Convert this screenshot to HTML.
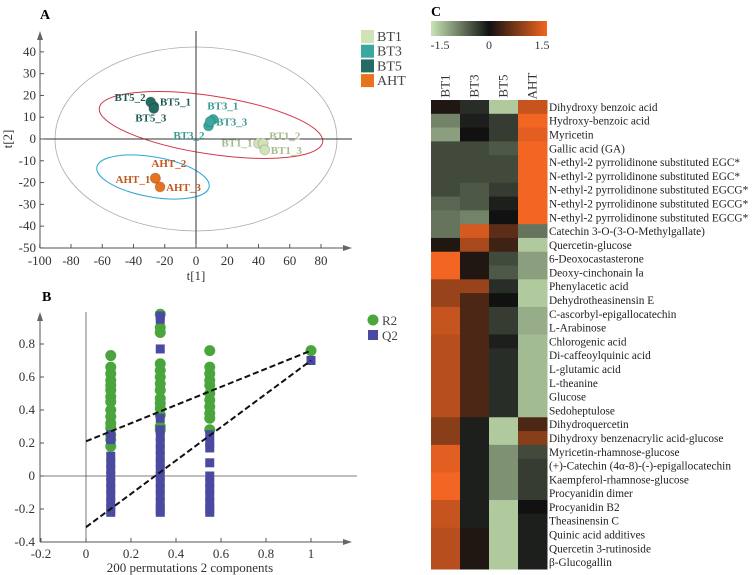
<!DOCTYPE html>
<html><head><meta charset="utf-8"><style>
body{margin:0;background:#fff;}
svg{display:block;font-family:"Liberation Serif",serif;}
</style></head><body>
<svg id="fig" width="753" height="575" viewBox="0 0 753 575">
<defs>
<linearGradient id="cbar" x1="0" x2="1" y1="0" y2="0">
<stop offset="0" stop-color="#c8e6b4"/><stop offset="0.5" stop-color="#111"/><stop offset="1" stop-color="#f26522"/>
</linearGradient>
</defs>
<g id="pa"></g>
<g id="pb"></g>
<g id="pc"></g>
</svg>
<script>
// ---------- Panel A data ----------
const aNames=["BT1_1","BT1_2","BT1_3","BT3_1","BT3_2","BT3_3","BT5_1","BT5_2","BT5_3","AHT_1","AHT_2","AHT_3"];
const aGroups=["BT1","BT1","BT1","BT3","BT3","BT3","BT5","BT5","BT5","AHT","AHT","AHT"];
const aT1=[40,43,44,11,8,9,-27,-29,-27,-26,-26,-23];
const aT2=[-2,-2,-5,9,6,8,15,17,14,-18,-18,-22];
const aXTicks=[-100,-80,-60,-40,-20,0,20,40,60,80];
const aYTicks=[40,30,20,10,0,-10,-20,-30,-40,-50];
// ---------- Panel B data ----------
const bR2x=[0.11,0.33,0.55,1];
const bR2Vals=[[0.73,0.66,0.62,0.58,0.55,0.52,0.48,0.45,0.4,0.36,0.32,0.29,0.25,0.22,0.18],
[0.98,0.9,0.87,0.68,0.64,0.6,0.56,0.52,0.47,0.44,0.41,0.37,0.3,0.28],
[0.76,0.66,0.62,0.58,0.55,0.5,0.46,0.42,0.38,0.35,0.28],[0.76]];
const bQ2Vals=[[0.25,0.22,0.12,0.08,0.04,0,-0.04,-0.08,-0.12,-0.16,-0.2,-0.22],
[0.97,0.95,0.77,0.35,0.28,0.24,0.2,0.16,0.12,0.08,0.04,0,-0.04,-0.08,-0.12,-0.16,-0.2,-0.22],
[0.25,0.2,0.17,0.08,0,-0.04,-0.08,-0.12,-0.16,-0.2,-0.22],[0.70]];
const bR2Line=[0.21,0.76];
const bQ2Line=[-0.31,0.70];
const bXTicks=[-0.2,0,0.2,0.4,0.6,0.8,1];
const bYTicks=[0.8,0.6,0.4,0.2,0,-0.2,-0.4];
// ---------- Panel C data ----------
const cCols=["BT1","BT3","BT5","AHT"];
const cRows=["Dihydroxy benzoic acid","Hydroxy-benzoic acid","Myricetin","Gallic acid (GA)",
"N-ethyl-2 pyrrolidinone substituted EGC*","N-ethyl-2 pyrrolidinone substituted EGC*",
"N-ethyl-2 pyrrolidinone substituted EGCG*","N-ethyl-2 pyrrolidinone substituted EGCG*",
"N-ethyl-2 pyrrolidinone substituted EGCG*","Catechin 3-O-(3-O-Methylgallate)","Quercetin-glucose",
"6-Deoxocastasterone","Deoxy-cinchonain Ⅰa","Phenylacetic acid","Dehydrotheasinensin E",
"C-ascorbyl-epigallocatechin","L-Arabinose","Chlorogenic acid","Di-caffeoylquinic acid",
"L-glutamic acid","L-theanine","Glucose","Sedoheptulose","Dihydroquercetin",
"Dihydroxy benzenacrylic acid-glucose","Myricetin-rhamnose-glucose",
"(+)-Catechin (4α-8)-(-)-epigallocatechin","Kaempferol-rhamnose-glucose","Procyanidin dimer",
"Procyanidin B2","Theasinensin C","Quinic acid additives","Quercetin 3-rutinoside","β-Glucogallin"];
const cBT1=[0.1,-0.8,-1.0,-0.4,-0.4,-0.4,-0.4,-0.6,-0.7,-0.7,0.1,1.5,1.5,0.9,0.9,1.2,1.2,1.1,1.1,1.1,1.1,1.1,1.1,0.8,0.8,1.4,1.4,1.5,1.5,1.2,1.2,1.1,1.1,1.1];
const cBT3=[-0.2,-0.1,0,-0.4,-0.4,-0.4,-0.5,-0.5,-0.8,1.3,1.0,0.1,0.1,0.9,0.4,0.4,0.4,0.4,0.4,0.4,0.4,0.4,0.4,-0.1,-0.1,-0.1,-0.1,-0.1,-0.1,-0.1,-0.1,0.1,0.1,0.1];
const cBT5=[-1.3,-0.3,-0.3,-0.5,-0.4,-0.4,-0.3,-0.1,0,0.5,0.3,-0.4,-0.5,-0.2,0,-0.3,-0.3,-0.1,-0.2,-0.2,-0.2,-0.2,-0.2,-1.3,-1.3,-0.9,-0.9,-0.9,-0.9,-1.3,-1.3,-1.3,-1.3,-1.3];
const cAHT=[1.2,1.5,1.4,1.5,1.5,1.5,1.5,1.5,1.5,-0.7,-1.3,-1.0,-1.0,-1.3,-1.3,-1.1,-1.1,-1.2,-1.2,-1.2,-1.2,-1.2,-1.2,0.4,0.8,-0.4,-0.3,-0.3,-0.3,0,-0.1,-0.1,-0.1,-0.1];
const cScale=[-1.5,0,1.5];

const NS="http://www.w3.org/2000/svg";
function mk(parent,tag,attrs,text){const e=document.createElementNS(NS,tag);for(const k in attrs)e.setAttribute(k,attrs[k]);if(text!==undefined)e.textContent=text;parent.appendChild(e);return e;}

// ===== Panel A =====
const pa=document.getElementById('pa');
const ax=v=>196+v*1.5625, ay=v=>139-v*2.178;
let t=mk(pa,'text',{x:40,y:19,'font-size':14,'font-weight':'bold'},'A');


mk(pa,'ellipse',{cx:196,cy:139,rx:141,ry:92,fill:'none',stroke:'#aaa','stroke-width':0.8});
mk(pa,'ellipse',{cx:211,cy:125,rx:113,ry:29,fill:'none',stroke:'#d0384a','stroke-width':1,transform:'rotate(8.7 211 125)'});
mk(pa,'ellipse',{cx:153,cy:177,rx:57,ry:20,fill:'none',stroke:'#2aa6d6','stroke-width':1,transform:'rotate(10 153 177)'});
mk(pa,'line',{x1:40,y1:248,x2:345,y2:248,stroke:'#555'});
mk(pa,'path',{d:'M352 248 L343 245 L343 251Z',fill:'#666'});
mk(pa,'line',{x1:40,y1:248,x2:40,y2:38,stroke:'#555'});
mk(pa,'path',{d:'M40 31 L37 40 L43 40Z',fill:'#666'});
mk(pa,'line',{x1:40,y1:139,x2:352,y2:139,stroke:'#333'});
mk(pa,'line',{x1:196,y1:31,x2:196,y2:248,stroke:'#333'});
aXTicks.forEach(v=>{mk(pa,'line',{x1:ax(v),y1:248,x2:ax(v),y2:244,stroke:'#555'});
 const e=mk(pa,'text',{x:ax(v),y:265,'font-size':13,'text-anchor':'middle',fill:'#333'},v);
 
 });
aYTicks.forEach(v=>{mk(pa,'line',{x1:40,y1:ay(v),x2:44,y2:ay(v),stroke:'#555'});
 const e=mk(pa,'text',{x:36,y:ay(v)+4,'font-size':13,'text-anchor':'end',fill:'#333'},v);
 
 });
t=mk(pa,'text',{x:196,y:280,'font-size':13,'text-anchor':'middle',fill:'#333'},'t[1]');


t=mk(pa,'text',{x:12,y:139,'font-size':13,'text-anchor':'middle',fill:'#333',transform:'rotate(-90 12 139)'},'t[2]');


const gcol={BT1:'#cfe3b6',BT3:'#3aa89e',BT5:'#236b63',AHT:'#e8731f'};
const lcol={BT1:'#a5bb8c',BT3:'#3a9a94',BT5:'#1f5a55',AHT:'#c2581c'};
const lpos={"BT1_1":[-6,3,'end'],"BT1_2":[6,-4,'start'],"BT1_3":[6,4,'start'],"BT3_1":[-6,-10,'start'],"BT3_2":[-4,13,'end'],"BT3_3":[6,4,'start'],"BT5_1":[6,-1,'start'],"BT5_2":[-5,-1,'end'],"BT5_3":[-3,13,'middle'],"AHT_1":[-5,5,'end'],"AHT_2":[-4,-11,'start'],"AHT_3":[6,4,'start']};
aNames.forEach((n,i)=>{const x=ax(aT1[i]),y=ay(aT2[i]),g=aGroups[i];
 const c=mk(pa,'circle',{cx:x,cy:y,r:5,fill:gcol[g],stroke:'rgba(0,0,0,0.15)'});
 
 
 const p=lpos[n];
 const e=mk(pa,'text',{x:x+p[0],y:y+p[1],'font-size':11,'font-weight':'bold','text-anchor':p[2],fill:lcol[g]},n);
 
 });
["BT1","BT3","BT5","AHT"].forEach((g,i)=>{const y=30+i*14.7;
 const r=mk(pa,'rect',{x:361,y:y,width:13,height:13,fill:gcol[g]});
 
 
 const e=mk(pa,'text',{x:377,y:y+11,'font-size':14,fill:'#444'},g);
 
 });

// ===== Panel B =====
const pb=document.getElementById('pb');
const bx=v=>86+v*225, by=v=>476-v*165;
t=mk(pb,'text',{x:42,y:301,'font-size':14,'font-weight':'bold'},'B');


mk(pb,'line',{x1:40,y1:542,x2:345,y2:542,stroke:'#555'});
mk(pb,'path',{d:'M352 542 L343 539 L343 545Z',fill:'#666'});
mk(pb,'line',{x1:40,y1:542,x2:40,y2:320,stroke:'#555'});
mk(pb,'path',{d:'M40 312 L37 321 L43 321Z',fill:'#666'});
mk(pb,'line',{x1:40,y1:476,x2:357,y2:476,stroke:'#555','stroke-width':0.8});
mk(pb,'line',{x1:86,y1:312,x2:86,y2:542,stroke:'#555','stroke-width':0.8});
bXTicks.forEach(v=>{mk(pb,'line',{x1:bx(v),y1:542,x2:bx(v),y2:538,stroke:'#555'});
 const e=mk(pb,'text',{x:bx(v),y:558,'font-size':13,'text-anchor':'middle',fill:'#333'},v);
 
 });
bYTicks.forEach(v=>{mk(pb,'line',{x1:40,y1:by(v),x2:44,y2:by(v),stroke:'#555'});
 const e=mk(pb,'text',{x:35,y:by(v)+4,'font-size':13,'text-anchor':'end',fill:'#333'},v);
 
 });
t=mk(pb,'text',{x:190,y:572,'font-size':13,'text-anchor':'middle',fill:'#333'},'200 permutations 2 components');


bR2x.forEach((x,i)=>{bR2Vals[i].forEach(v=>{const c=mk(pb,'circle',{cx:bx(x),cy:by(v),r:5.5,fill:'#4aa63c'});
 
 });});
bR2x.forEach((x,i)=>{bQ2Vals[i].forEach(v=>{const r=mk(pb,'rect',{x:bx(x)-4.5,y:by(v)-4.5,width:9,height:9,fill:'#4b4aa0'});
 
 });});
let l=mk(pb,'line',{x1:bx(0),y1:by(bR2Line[0]),x2:bx(1),y2:by(bR2Line[1]),stroke:'#111','stroke-width':2,'stroke-dasharray':'6 3'});


l=mk(pb,'line',{x1:bx(0),y1:by(bQ2Line[0]),x2:bx(1),y2:by(bQ2Line[1]),stroke:'#111','stroke-width':2,'stroke-dasharray':'6 3'});


let lg=mk(pb,'circle',{cx:373,cy:320,r:5.5,fill:'#4aa63c'});


lg=mk(pb,'text',{x:382,y:325,'font-size':13,fill:'#444'},'R2');


lg=mk(pb,'rect',{x:368,y:330,width:10,height:10,fill:'#4b4aa0'});


lg=mk(pb,'text',{x:382,y:340,'font-size':13,fill:'#444'},'Q2');



// ===== Panel C =====
const pc=document.getElementById('pc');
t=mk(pc,'text',{x:431,y:16,'font-size':14,'font-weight':'bold'},'C');


const cb=mk(pc,'rect',{x:431,y:21,width:116,height:15,fill:'url(#cbar)'});


cScale.forEach((v,i)=>{const e=mk(pc,'text',{x:[440,489,542][i],y:49,'font-size':12,'text-anchor':'middle',fill:'#333'},v);
 
 });
function lerp(a,b,t){return Math.round(a+(b-a)*t);}
function col(v){const lo=[200,230,180],mid=[17,17,17],hi=[242,101,34];
 let t=Math.max(-1,Math.min(1,v/1.5));let c;
 if(t<0){c=mid.map((m,i)=>lerp(m,lo[i],-t));}else{c=mid.map((m,i)=>lerp(m,hi[i],t));}
 return 'rgb('+c.join(',')+')';}
const cx0=431,cw=29,cy0=100,rh=469/34;
const cData=[cBT1,cBT3,cBT5,cAHT];
cCols.forEach((c,j)=>{const x=cx0+j*cw+cw/2;
 const e=mk(pc,'text',{x:x,y:82,'font-size':13,'text-anchor':'middle',fill:'#333',transform:'rotate(-90 '+(x+4)+' 82)'},c);
 
 });
cRows.forEach((r,i)=>{const y=cy0+i*rh;
 cData.forEach((arr,j)=>{const rc=mk(pc,'rect',{x:cx0+j*cw,y:y,width:cw+0.5,height:rh+0.5,fill:col(arr[i])});
  
  });
 const e=mk(pc,'text',{x:549,y:y+rh/2+4,'font-size':11.3,fill:'#222'},r);
 
 });
</script>
</body></html>
